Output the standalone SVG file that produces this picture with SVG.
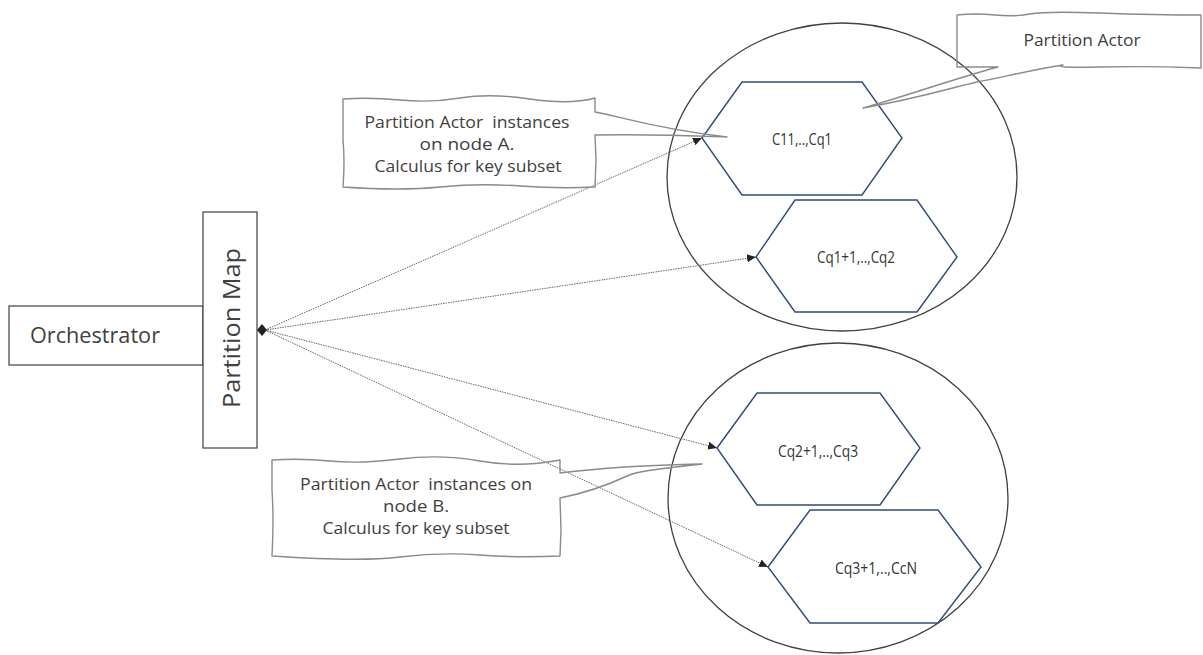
<svg xmlns="http://www.w3.org/2000/svg" width="1203" height="655" viewBox="0 0 1203 655">
<style>
.box{fill:#fff;stroke:#404040;stroke-width:1.2}
.circ{fill:none;stroke:#404040;stroke-width:1.3}
.hex{fill:#fff;stroke:#2f4a78;stroke-width:1.4}
.call{fill:none;stroke:#8a8a8a;stroke-width:1.4;stroke-linejoin:round}
.t{font-family:"Open Sans","Noto Sans","DejaVu Sans",sans-serif;fill:#404040;text-anchor:middle;white-space:pre}
.big{font-size:22px}
.map{font-size:24px}
.mid{font-size:16px}
.sm{font-size:16px;fill:#333}
.conn{fill:none;stroke:#666;stroke-width:1;stroke-dasharray:1.5 1}
</style>
<defs>
<marker id="arr" markerUnits="userSpaceOnUse" markerWidth="10" markerHeight="10" refX="9" refY="5" orient="auto">
<path d="M0,1 L9,5 L0,9 Z" fill="#222"/>
</marker>
</defs>
<rect width="1203" height="655" fill="#fff"/>

<g id="node-orchestrator">
<rect class="box" x="9" y="306" width="194" height="59"/>
<text class="t big" x="95" y="343" textLength="130" lengthAdjust="spacingAndGlyphs">Orchestrator</text>
</g>

<g id="node-partition-map">
<rect class="box" x="203" y="212" width="54" height="236"/>
<text class="t map" transform="translate(240,328) rotate(-90)" textLength="160" lengthAdjust="spacingAndGlyphs">Partition Map</text>
</g>

<g id="node-circle-a">
<ellipse class="circ" cx="842" cy="177" rx="175" ry="154"/>
</g>
<g id="node-circle-b">
<ellipse class="circ" cx="838" cy="498" rx="170" ry="155"/>
</g>

<g id="node-hex1">
<polygon class="hex" points="702,138 742,82 862,82 902,138 862,195 742,195"/>
<text class="t sm" x="802" y="145" textLength="60" lengthAdjust="spacingAndGlyphs">C11,..,Cq1</text>
</g>
<g id="node-hex2">
<polygon class="hex" points="756,257 795,200 917,200 957,257 917,312 795,312"/>
<text class="t sm" x="856" y="263" textLength="78" lengthAdjust="spacingAndGlyphs">Cq1+1,..,Cq2</text>
</g>
<g id="node-hex3">
<polygon class="hex" points="717,448 757,393 880,393 920,448 880,505 757,505"/>
<text class="t sm" x="818" y="457" textLength="80" lengthAdjust="spacingAndGlyphs">Cq2+1,..,Cq3</text>
</g>
<g id="node-hex4">
<polygon class="hex" points="768,567 810,510 938,510 981,567 938,623 810,623"/>
<text class="t sm" x="876" y="574" textLength="82" lengthAdjust="spacingAndGlyphs">Cq3+1,..,CcN</text>
</g>

<g id="connectors">
<line class="conn" x1="265" y1="330" x2="702" y2="138" marker-end="url(#arr)"/>
<line class="conn" x1="265" y1="330" x2="756" y2="257" marker-end="url(#arr)"/>
<line class="conn" x1="265" y1="330" x2="717" y2="448" marker-end="url(#arr)"/>
<line class="conn" x1="265" y1="330" x2="768" y2="567" marker-end="url(#arr)"/>
<polygon points="257,330 262,324 267,330 262,336" fill="#222"/>
</g>

<g id="callout-a">
<path class="call" d="M343,99 Q370,97 400,100 T460,98 T530,99 T595,98 L595,112 C615,115 650,128 727,137 C700,136 650,134 595,135 L596,160 L595,187 Q560,189 520,186 T440,187 T343,187 Q345,160 343,140 Z"/>
<text class="t mid" x="467" y="128" textLength="205" lengthAdjust="spacingAndGlyphs">Partition Actor  instances</text>
<text class="t mid" x="467" y="150" textLength="95" lengthAdjust="spacingAndGlyphs">on node A.</text>
<text class="t mid" x="468" y="172" textLength="187" lengthAdjust="spacingAndGlyphs">Calculus for key subset</text>
</g>

<g id="callout-partition-actor">
<path class="call" d="M957,67 L957,15 Q975,13 995,15 T1030,14 T1100,13 T1201,15 L1201,68 Q1150,66 1100,67 T1063,65 C1030,70 1000,78 977,82 C950,88 920,98 863,108 C900,98 950,80 998,67 Z"/>
<text class="t mid" x="1082" y="46" textLength="117" lengthAdjust="spacingAndGlyphs">Partition Actor</text>
</g>

<g id="callout-b">
<path class="call" d="M272,460 Q300,458 330,461 T400,459 T480,461 T560,460 L560,473 C600,468 650,465 702,464 C670,468 640,470 627,476 C610,484 590,492 560,498 L561,530 L560,556 Q520,558 480,555 T400,557 T272,556 Q274,520 272,490 Z"/>
<text class="t mid" x="416" y="490" textLength="232" lengthAdjust="spacingAndGlyphs">Partition Actor  instances on</text>
<text class="t mid" x="416" y="512" textLength="66" lengthAdjust="spacingAndGlyphs">node B.</text>
<text class="t mid" x="416" y="534" textLength="187" lengthAdjust="spacingAndGlyphs">Calculus for key subset</text>
</g>
</svg>
